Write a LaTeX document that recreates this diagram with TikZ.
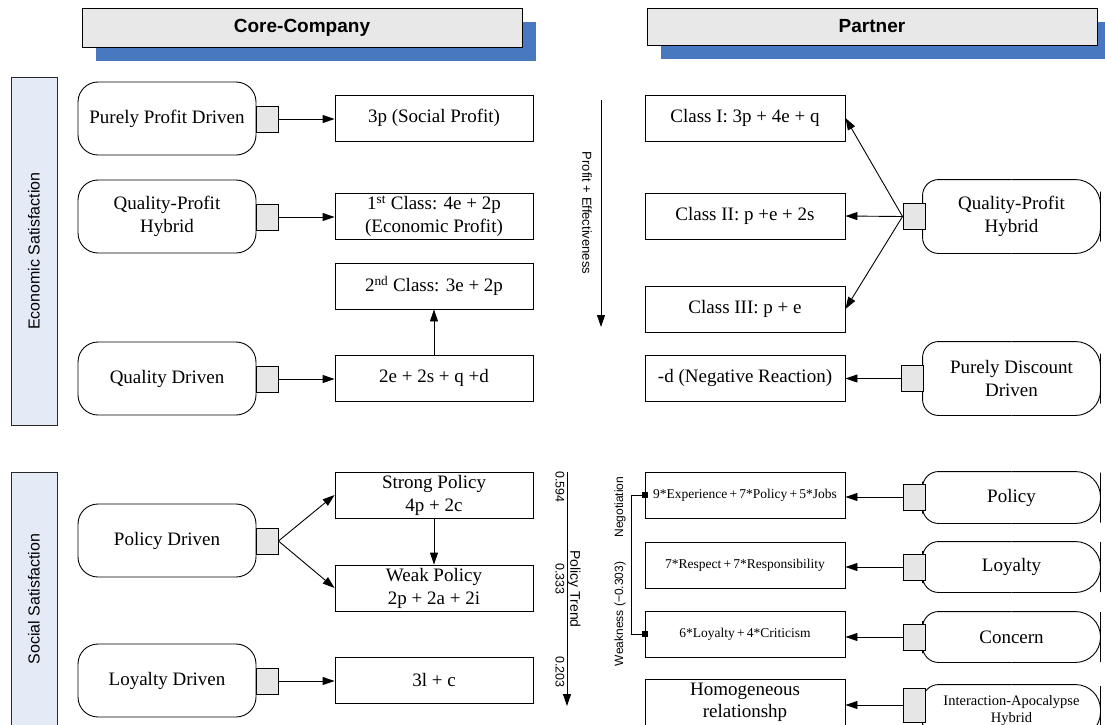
\documentclass[tikz,border=0pt]{standalone}
\usepackage{fontspec}
\setmainfont{Liberation Serif}
\setsansfont{Liberation Sans}
\usetikzlibrary{arrows.meta,shadows}
\definecolor{hdrblue}{RGB}{72,120,192}
\definecolor{hdrgray}{RGB}{232,232,232}
\definecolor{sqgray}{RGB}{230,230,230}
\definecolor{sidefill}{RGB}{229,235,246}
\definecolor{edgegray}{RGB}{40,40,40}
\begin{document}
\begin{tikzpicture}[x=1pt,y=-1pt,line width=0.9pt,
  >={Triangle[length=12pt,width=8pt]},
  hdr/.style={draw=black,fill=hdrgray,font=\sffamily\bfseries\fontsize{19}{21}\selectfont,
    general shadow={fill=hdrblue,shadow xshift=14pt,shadow yshift=-14pt}},
  side/.style={draw=edgegray,fill=sidefill,rotate=90,minimum height=46pt,
    font=\sffamily\fontsize{16}{18}\selectfont},
  lnode/.style={draw,rounded corners=20pt,minimum width=178pt,minimum height=73pt,
    align=center,font=\fontsize{19}{23}\selectfont},
  rnode/.style={minimum width=177pt,align=center,font=\fontsize{19}{23}\selectfont},
  sq/.style={draw,fill=sqgray,minimum width=22pt,minimum height=26pt,inner sep=0pt},
  box/.style={draw,minimum width=198pt,minimum height=46pt,inner sep=0pt,align=center,
    font=\fontsize{19}{23}\selectfont},
  rbox/.style={draw,minimum width=200pt,minimum height=46pt,inner sep=0pt,align=center,
    font=\fontsize{19}{23}\selectfont},
  sbox/.style={rbox,font=\fontsize{13.5}{16}\selectfont},
  lab/.style={font=\sffamily\fontsize{13}{15}\selectfont,inner sep=0pt},
  conn/.style={->,draw=black}]

\clip (0,0) rectangle (1105,724);

% column headers
\node[hdr,minimum width=440pt,minimum height=39pt] (hcore) at (302,27.5) {Core-Company};
\node[hdr,minimum width=450pt,minimum height=37pt] (hpart) at (872,26.5) {Partner};

% side bands
\node[side,minimum width=348pt] (econ) at (34,251) {Economic Satisfaction};
\node[side,minimum width=254pt] (soc) at (34,599) {Social Satisfaction};

% core-company profiles
\node[lnode] (ppd) at (167,118.5) {Purely Profit Driven};
\node[lnode] (lqph) at (167,216.5) {Quality-Profit\\Hybrid};
\node[lnode] (qd) at (167,378.5) {Quality Driven};
\node[lnode] (pold) at (167,540.5) {Policy Driven};
\node[lnode] (lyd) at (167,680.5) {Loyalty Driven};

\node[sq] (sppd) at (267,119) {};
\node[sq] (slqph) at (267,217) {};
\node[sq] (sqd) at (267,379) {};
\node[sq] (spold) at (267,541) {};
\node[sq] (slyd) at (267,681) {};

% core-company outcomes
\node[box] (sp) at (434,118) {3p (Social Profit)};
\node[box] (c1) at (434,216) {1\textsuperscript{st} Class: 4e + 2p\\(Economic Profit)};
\node[box] (c2) at (434,286) {2\textsuperscript{nd} Class: 3e + 2p};
\node[box] (qf) at (434,378) {2e + 2s + q +d};
\node[box] (strong) at (434,495) {Strong Policy\\4p + 2c};
\node[box] (weak) at (434,588) {Weak Policy\\2p + 2a + 2i};
\node[box] (lf) at (434,680) {3l + c};

\draw[conn] (sppd.east) -- (sppd.east -| sp.west);
\draw[conn] (slqph.east) -- (slqph.east -| c1.west);
\draw[conn] (sqd.east) -- (sqd.east -| qf.west);
\draw[conn] (qf.north) -- (c2.south);
\draw[conn] (spold.east) -- (strong.west);
\draw[conn] (spold.east) -- (weak.west);
\draw[conn] (strong.south) -- (weak.north);
\draw[conn] (slyd.east) -- (slyd.east -| lf.west);

% trend axes
\coordinate (pe1) at (601,100);
\coordinate (pe2) at (601,327);
\draw[conn] (pe1) -- (pe2);
\node[lab,rotate=-90] (pelab) at (587,213) {Profit + Effectiveness};

\coordinate (pt1) at (567,472);
\coordinate (pt2) at (567,706);
\draw[conn] (pt1) -- (pt2);
\node[lab,rotate=-90,font=\sffamily\fontsize{12.5}{14}\selectfont] (v1) at (560,487) {0.594};
\node[lab,rotate=-90,font=\sffamily\fontsize{12.5}{14}\selectfont] (v2) at (560,579) {0.333};
\node[lab,rotate=-90,font=\sffamily\fontsize{12.5}{14}\selectfont] (v3) at (560,672) {0.203};
\node[lab,rotate=-90,font=\sffamily\fontsize{14}{16}\selectfont] (ptlab) at (574,589) {Policy Trend};

% partner outcomes
\node[rbox] (k1) at (745,118) {Class I: 3p + 4e + q};
\node[rbox] (k2) at (745,216) {Class II: p +e + 2s};
\node[rbox] (k3) at (745,309) {Class III: p + e};
\node[rbox] (nr) at (745,378) {-d (Negative Reaction)};
\node[sbox] (exp) at (745,495) {9*Experience\,+\,7*Policy\,+\,5*Jobs};
\node[sbox] (rsp) at (745,565) {7*Respect\,+\,7*Responsibility};
\node[sbox] (lcr) at (745,634) {6*Loyalty\,+\,4*Criticism};
\node[rbox,font=\fontsize{19}{22}\selectfont] (hom) at (745,702) {Homogeneous\\relationshp};

% partner profiles
\node[rnode,minimum height=73pt] (rqph) at (1011.5,216.5) {Quality-Profit\\Hybrid};
\node[rnode,minimum height=73pt] (rpdd) at (1011.5,378.5) {Purely Discount\\Driven};
\node[rnode,minimum height=51pt] (rpol) at (1011.5,497.5) {Policy};
\node[rnode,minimum height=50pt] (rloy) at (1011.5,567) {Loyalty};
\node[rnode,minimum height=50pt] (rcon) at (1011.5,637) {Concern};
\node[rnode,minimum height=52pt,font=\fontsize{14.5}{17}\selectfont] (riah) at (1011.5,711) {Interaction-Apocalypse\\Hybrid};
\foreach \n in {rqph,rpdd,rpol,rloy,rcon,riah}{
  \draw[rounded corners=16pt] (\n.north) -| (\n.west) |- (\n.south);
  \draw[rounded corners=25pt] (\n.north) -| (\n.east) |- (\n.south);
}

\node[sq] (srqph) at (914,216.5) {};
\node[sq] (srpdd) at (912,378.5) {};
\node[sq] (srpol) at (914,497) {};
\node[sq] (srloy) at (914,567) {};
\node[sq] (srcon) at (914,637) {};
\node[sq,minimum height=34pt] (sriah) at (914,705) {};

\draw[conn] (srqph.west) -- (k1.east);
\draw[conn] (srqph.west) -- (k2.east);
\draw[conn] (srqph.west) -- (k3.east);
\draw[conn] (srpdd.west) -- (srpdd.west -| nr.east);
\draw[conn] (srpol.west) -- (srpol.west -| exp.east);
\draw[conn] (srloy.west) -- (srloy.west -| rsp.east);
\draw[conn] (srcon.west) -- (srcon.west -| lcr.east);
\draw[conn] (sriah.west) -- (sriah.west -| hom.east);

% negotiation bracket
\draw (exp.west) -- ++(-13,0) |- (lcr.west);
\fill ([shift={(-3,-3)}]exp.west) rectangle ++(6,6);
\fill ([shift={(-3,-3)}]lcr.west) rectangle ++(6,6);
\node[lab,rotate=90,font=\sffamily\fontsize{12}{14}\selectfont] (neg) at (620,507) {Negotiation};
\node[lab,rotate=90,font=\sffamily\fontsize{12}{14}\selectfont] (wk) at (620,614) {Weakness (−0.303)};
\end{tikzpicture}
\end{document}
